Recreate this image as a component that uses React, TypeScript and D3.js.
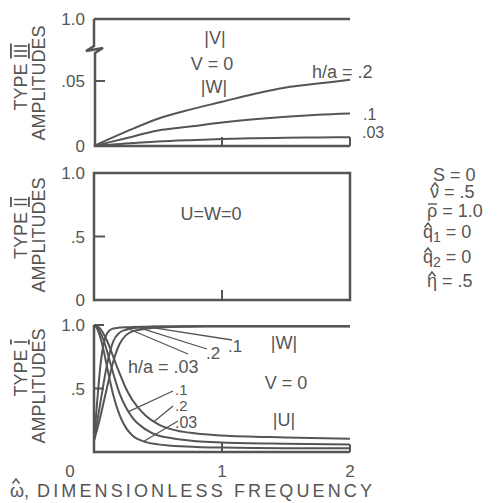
import React from "react";
import * as d3 from "d3";

const INK = "#555";
const FONT = "'Liberation Sans', Arial, sans-serif";

// ---- type III panel (|W| amplitudes, small scale) ----
const omegaTop = [0, 0.25, 0.5, 0.75, 1.0, 1.25, 1.5, 1.75, 2.0];
const topW20 = [0, 0.011, 0.021, 0.028, 0.034, 0.040, 0.045, 0.048, 0.051];
const topW10 = [0, 0.006, 0.012, 0.015, 0.018, 0.0205, 0.0225, 0.024, 0.025];
const topW03 = [0, 0.002, 0.0035, 0.0045, 0.0053, 0.0059, 0.0063, 0.0066, 0.0068];
const topV = [1, 1, 1, 1, 1, 1, 1, 1, 1];

// ---- type I panel ----
const omegaLow = [0, 0.025, 0.05, 0.075, 0.1, 0.125, 0.15, 0.2, 0.25, 0.3, 0.4, 0.5, 0.6, 0.8, 1.0, 1.5, 2.0];
const lowW03 = [0.09, 0.40, 0.68, 0.85, 0.93, 0.96, 0.972, 0.98, 0.983, 0.985, 0.987, 0.988, 0.989, 0.99, 0.99, 0.99, 0.99];
const lowW20 = [0.09, 0.24, 0.39, 0.54, 0.68, 0.79, 0.87, 0.94, 0.963, 0.975, 0.983, 0.986, 0.988, 0.99, 0.99, 0.99, 0.99];
const lowW10 = [0.09, 0.18, 0.28, 0.39, 0.50, 0.61, 0.71, 0.85, 0.92, 0.95, 0.97, 0.98, 0.985, 0.989, 0.99, 0.99, 0.99];
const lowU03 = [1.0, 0.97, 0.90, 0.80, 0.68, 0.56, 0.45, 0.29, 0.19, 0.13, 0.08, 0.06, 0.05, 0.04, 0.035, 0.03, 0.03];
const lowU10 = [1.0, 0.98, 0.94, 0.88, 0.80, 0.71, 0.62, 0.46, 0.35, 0.27, 0.18, 0.13, 0.11, 0.085, 0.075, 0.065, 0.06];
const lowU20 = [1.0, 0.99, 0.97, 0.93, 0.88, 0.82, 0.75, 0.62, 0.50, 0.41, 0.29, 0.22, 0.18, 0.145, 0.13, 0.115, 0.105];

const xTickVals = [0, 1, 2];
const xTickLabels = ["0", "1", "2"];
const topTickVals = [0, 0.05, 1.0];
const topTickLabels = ["0", ".05", "1.0"];
const midTickVals = [0, 0.5, 1.0];
const midTickLabels = ["0", ".5", "1.0"];
const lowTickVals = [0.5, 1.0];
const lowTickLabels = [".5", "1.0"];

// parameter block: symbol, accent, subscript, value
const params = [
  { sym: "S", acc: "", sub: "", val: " = 0" },
  { sym: "ν", acc: "hat", sub: "", val: " = .5" },
  { sym: "ρ", acc: "bar", sub: "", val: " =  1.0" },
  { sym: "q", acc: "hat", sub: "1", val: " = 0" },
  { sym: "q", acc: "hat", sub: "2", val: " = 0" },
  { sym: "η", acc: "hat", sub: "", val: " = .5" },
];
const paramX = [433, 430, 427, 423, 423, 427];
const paramY = [181, 198, 217, 238, 263, 287];

const x = d3.scaleLinear().domain([0, 2]).range([94, 350]);
const yTop = d3.scaleLinear().domain([0, 0.06, 1.0]).range([146, 68, 19]);
const yMid = d3.scaleLinear().domain([0, 1]).range([300, 173]);
const yLow = d3.scaleLinear().domain([0, 1]).range([452, 325]);

function interp(xs: number[], ys: number[], v: number) {
  const i = Math.max(1, d3.bisectLeft(xs, v));
  const t = (v - xs[i - 1]) / (xs[i] - xs[i - 1]);
  return ys[i - 1] + t * (ys[i] - ys[i - 1]);
}

function curve(xs: number[], ys: number[], y: d3.ScaleLinear<number, number>) {
  const line = d3.line<number>()
    .curve(d3.curveMonotoneX)
    .x((_, i) => x(xs[i]))
    .y(d => y(d));
  return line(ys) || "";
}

const T = (p: any) => (
  <text fontFamily={FONT} fill={INK} fontSize={18} {...p} />
);

// small hat drawn over a letter centred at cx
const Hat = ({ cx, cy }: { cx: number; cy: number }) => (
  <path d={`M${cx - 3.5},${cy + 2.5} L${cx},${cy - 2} L${cx + 3.5},${cy + 2.5}`} stroke={INK} strokeWidth={1.4} fill="none" />
);

const Roman = ({ tx, ty, n }: { tx: number; ty: number; n: string }) => (
  <T transform={`translate(${tx},${ty}) rotate(-90)`} textAnchor="middle">
    TYPE <tspan style={{ textDecoration: "overline underline" }}>{n}</tspan>
  </T>
);

export default function App() {
  const stroke = { stroke: INK, strokeWidth: 2, fill: "none" };
  const axis = { stroke: INK, strokeWidth: 2.5, fill: "none" };

  const lowLeaders = [
    { sx: 173, sy: 391, w: 0.27, ys: lowU10 },
    { sx: 173, sy: 406, w: 0.47, ys: lowU20 },
    { sx: 178, sy: 421, w: 0.39, ys: lowU03 },
  ];
  const highLeaders = [
    { sx: 188, sy: 354, w: 0.24, ys: lowW03 },
    { sx: 207, sy: 349, w: 0.35, ys: lowW20 },
    { sx: 232, sy: 340, w: 0.47, ys: lowW10 },
  ];

  const breakY = 49;

  return (
    <svg width={498} height={503} style={{ position: "absolute", left: 0, top: 0, background: "#fff" }}>
      {/* ---------- TYPE III ---------- */}
      <path {...axis} d={`M${x(0)},${yTop(1)} V${breakY - 3} L${x(0) - 8},${breakY + 2} L${x(0) + 9},${breakY - 1} L${x(0) + 1},${breakY + 4} V${yTop(0)} H${x(2)}`} />
      <path {...stroke} strokeWidth={2.3} d={curve(omegaTop, topV, yTop)} />
      <path {...stroke} d={curve(omegaTop, topW20, yTop)} />
      <path {...stroke} d={curve(omegaTop, topW10, yTop)} />
      <path {...stroke} d={curve(omegaTop, topW03, yTop)} />
      <line {...stroke} x1={x(2)} x2={x(2)} y1={yTop(topW03[topW03.length - 1])} y2={yTop(0)} />
      <line {...stroke} x1={x(0)} x2={x(0) + 11} y1={yTop(0.05)} y2={yTop(0.05)} />
      <line {...stroke} x1={x(1)} x2={x(1)} y1={yTop(0)} y2={yTop(0) - 9} />
      {topTickVals.map((v, i) => (
        <T key={i} x={85} y={yTop(v) + 6} textAnchor="end" fontSize={17}>{topTickLabels[i]}</T>
      ))}
      <T x={215} y={44} textAnchor="middle">|V|</T>
      <T x={212} y={70} textAnchor="middle">V = 0</T>
      <T x={214} y={93} textAnchor="middle">|W|</T>
      <T x={312} y={78}>h/a = .2</T>
      <T x={363} y={120} fontSize={16}>.1</T>
      <T x={362} y={138} fontSize={16}>.03</T>
      <Roman tx={27} ty={77} n="III" />
      <T transform="translate(45,83) rotate(-90)" textAnchor="middle">AMPLITUDES</T>

      {/* ---------- TYPE II ---------- */}
      <rect {...axis} x={x(0)} y={yMid(1)} width={x(2) - x(0)} height={yMid(0) - yMid(1)} />
      <line {...stroke} x1={x(0)} x2={x(0) + 11} y1={yMid(0.5)} y2={yMid(0.5)} />
      <line {...stroke} x1={x(1)} x2={x(1)} y1={yMid(0)} y2={yMid(0) - 10} />
      {midTickVals.map((v, i) => (
        <T key={i} x={85} y={yMid(v) + 6} textAnchor="end" fontSize={17}>{midTickLabels[i]}</T>
      ))}
      <T x={211} y={220} textAnchor="middle">U=W=0</T>
      <Roman tx={27} ty={228} n="II" />
      <T transform="translate(45,235) rotate(-90)" textAnchor="middle">AMPLITUDES</T>

      {/* ---------- TYPE I ---------- */}
      <path {...axis} d={`M${x(0)},${yLow(1)} V${yLow(0)} H${x(2)}`} />
      <line {...stroke} x1={x(2)} x2={x(2)} y1={yLow(lowU10[lowU10.length - 1])} y2={yLow(0)} />
      {lowTickVals.map((v, i) => (
        <g key={i}>
          <line {...stroke} x1={x(0)} x2={x(0) + 10} y1={yLow(v)} y2={yLow(v)} />
          <T x={85} y={yLow(v) + 6} textAnchor="end" fontSize={17}>{lowTickLabels[i]}</T>
        </g>
      ))}
      <line {...stroke} x1={x(1)} x2={x(1)} y1={yLow(0)} y2={yLow(0) - 10} />
      {[lowW03, lowW20, lowW10, lowU03, lowU10, lowU20].map((ys, i) => (
        <path key={i} {...stroke} d={curve(omegaLow, ys, yLow)} />
      ))}
      {[...lowLeaders, ...highLeaders].map((l, i) => (
        <line key={i} stroke={INK} strokeWidth={1.3} x1={l.sx} y1={l.sy}
          x2={x(l.w)} y2={yLow(interp(omegaLow, l.ys, l.w))} />
      ))}
      <T x={128} y={373}>h/a = .03</T>
      <T x={206} y={359} fontSize={17}>.2</T>
      <T x={228} y={352} fontSize={17}>.1</T>
      <T x={175} y={395} fontSize={15}>.1</T>
      <T x={175} y={411} fontSize={15}>.2</T>
      <T x={175} y={428} fontSize={16}>.03</T>
      <T x={284} y={349} textAnchor="middle">|W|</T>
      <T x={286} y={389} textAnchor="middle">V = 0</T>
      <T x={284} y={426} textAnchor="middle">|U|</T>
      <Roman tx={27} ty={368} n="I" />
      <T transform="translate(45,386) rotate(-90)" textAnchor="middle">AMPLITUDES</T>

      {/* x tick labels */}
      {xTickVals.map((v, i) => (
        <T key={i} x={i === 0 ? 70 : x(v)} y={477} textAnchor="middle" fontSize={17}>{xTickLabels[i]}</T>
      ))}
      <T x={10} y={497}>ω</T>
      <Hat cx={16} cy={481} />
      <T x={24} y={497}>,</T>
      <T x={37} y={497} textLength={335} lengthAdjust="spacing">DIMENSIONLESS FREQUENCY</T>

      {/* parameters */}
      {params.map((p, i) => (
        <g key={i}>
          <T x={paramX[i]} y={paramY[i]}>
            {p.sym}
            {p.sub ? <tspan fontSize={14} dy={4}>{p.sub}</tspan> : null}
            <tspan dy={p.sub ? -4 : 0}>{p.val}</tspan>
          </T>
          {p.acc === "hat" ? <Hat cx={paramX[i] + 5} cy={paramY[i] - 13} /> : null}
          {p.acc === "bar" ? (
            <line stroke={INK} strokeWidth={1.4} x1={paramX[i] + 1} x2={paramX[i] + 10}
              y1={paramY[i] - 13} y2={paramY[i] - 13} />
          ) : null}
        </g>
      ))}
    </svg>
  );
}
